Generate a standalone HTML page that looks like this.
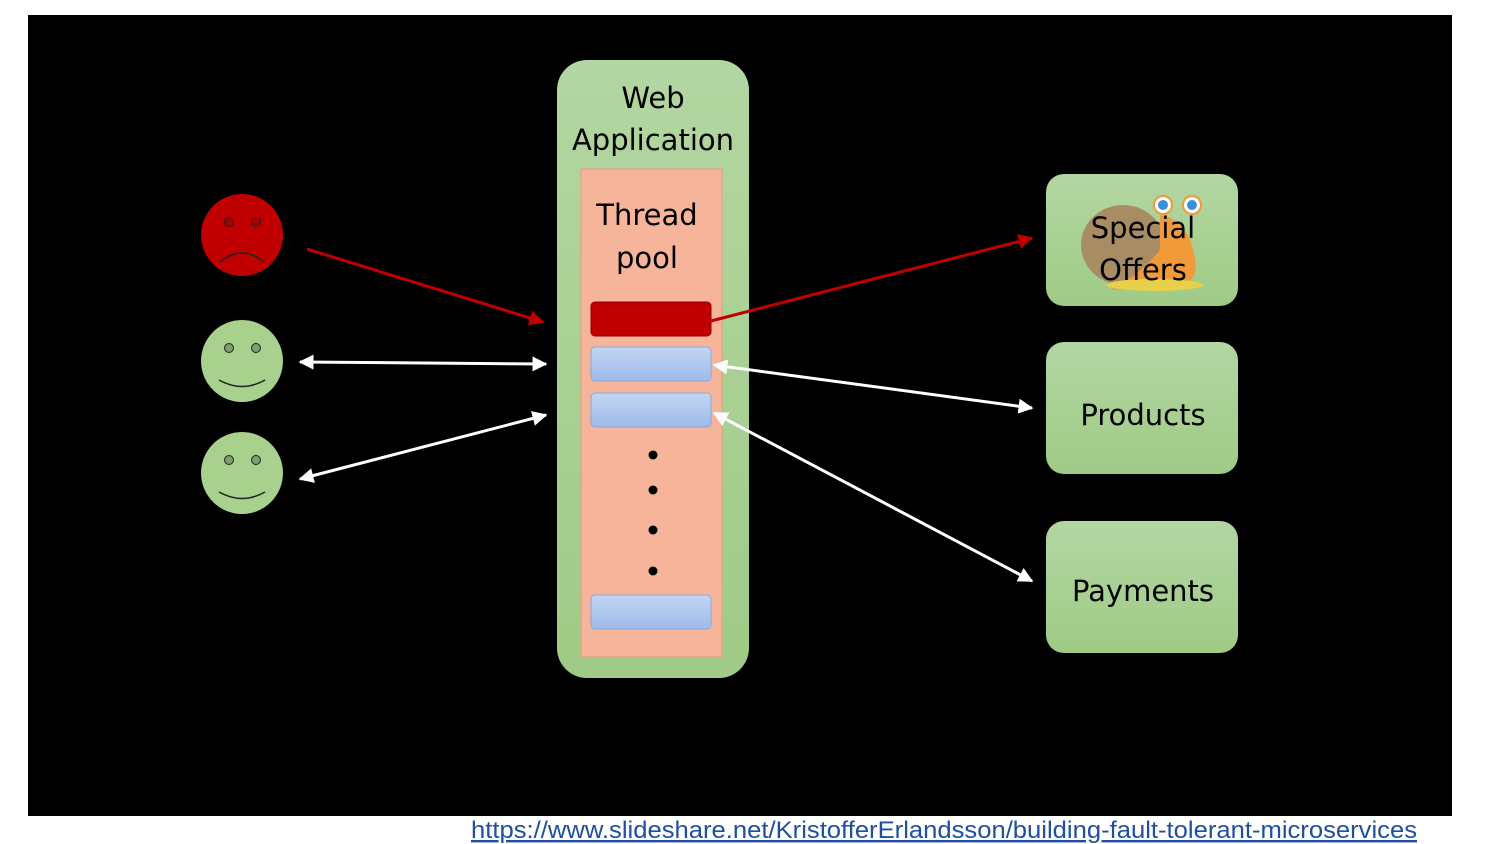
<!DOCTYPE html>
<html><head><meta charset="utf-8"><style>
html,body{margin:0;padding:0;background:#fff;width:1500px;height:844px;overflow:hidden}
svg{display:block}
text{font-family:"DejaVu Sans","Liberation Sans",sans-serif}
</style></head><body>
<svg width="1500" height="844" viewBox="0 0 1500 844">
<defs>
<linearGradient id="g" x1="0" y1="0" x2="0" y2="1"><stop offset="0" stop-color="#b3d6a2"/><stop offset="1" stop-color="#9fcb86"/></linearGradient>
<linearGradient id="b" x1="0" y1="0" x2="0" y2="1"><stop offset="0" stop-color="#c3d6f2"/><stop offset="1" stop-color="#9dbbe8"/></linearGradient>
<marker id="aw" viewBox="0 0 10 10" refX="9" refY="5" markerWidth="5" markerHeight="5" orient="auto-start-reverse"><path d="M0,0L10,5L0,10z" fill="#fff"/></marker>
<marker id="ar" viewBox="0 0 10 10" refX="9" refY="5" markerWidth="5" markerHeight="5" orient="auto"><path d="M0,0L10,5L0,10z" fill="#c00000"/></marker>
</defs>
<rect x="28" y="15" width="1424" height="801" fill="#000"/>
<rect x="557" y="60" width="192" height="618" rx="30" fill="url(#g)"/>
<text x="653" y="108" font-size="29" text-anchor="middle">Web</text>
<text x="653" y="150" font-size="29" text-anchor="middle">Application</text>
<rect x="581" y="169" width="141" height="488" fill="#f6b49a" stroke="#e89c80"/>
<text x="647" y="225" font-size="29" text-anchor="middle">Thread</text>
<text x="647" y="268" font-size="29" text-anchor="middle">pool</text>
<rect x="591" y="302" width="120" height="34" rx="4" fill="#c00000" stroke="#900"/>
<rect x="591" y="347" width="120" height="34" rx="4" fill="url(#b)" stroke="#8aa8d8"/>
<rect x="591" y="393" width="120" height="34" rx="4" fill="url(#b)" stroke="#8aa8d8"/>
<rect x="591" y="595" width="120" height="34" rx="4" fill="url(#b)" stroke="#8aa8d8"/>
<circle cx="653" cy="455" r="4.5"/><circle cx="653" cy="490" r="4.5"/><circle cx="653" cy="530" r="4.5"/><circle cx="653" cy="571" r="4.5"/>
<circle cx="242" cy="235" r="41" fill="#c00000"/>
<circle cx="229" cy="222" r="4.5" fill="#a00" stroke="#222"/><circle cx="256" cy="222" r="4.5" fill="#a00" stroke="#222"/>
<path d="M220,262 Q242,244 264,262" fill="none" stroke="#222" stroke-width="1.5"/>
<g fill="#a8d18d"><circle cx="242" cy="361" r="41"/><circle cx="242" cy="473" r="41"/></g>
<g fill="#7f9f6f" stroke="#222"><circle cx="229" cy="348" r="4.5"/><circle cx="256" cy="348" r="4.5"/><circle cx="229" cy="460" r="4.5"/><circle cx="256" cy="460" r="4.5"/></g>
<path d="M219,380 Q242,393 265,380 M219,492 Q242,505 265,492" fill="none" stroke="#222" stroke-width="1.5"/>
<line x1="307" y1="249" x2="543" y2="322" stroke="#c00000" stroke-width="3" marker-end="url(#ar)"/>
<line x1="300" y1="362" x2="546" y2="364" stroke="#fff" stroke-width="3" marker-start="url(#aw)" marker-end="url(#aw)"/>
<line x1="300" y1="479" x2="546" y2="415" stroke="#fff" stroke-width="3" marker-start="url(#aw)" marker-end="url(#aw)"/>
<line x1="711" y1="321" x2="1032" y2="238" stroke="#c00000" stroke-width="3" marker-end="url(#ar)"/>
<line x1="714" y1="365" x2="1032" y2="408" stroke="#fff" stroke-width="3" marker-start="url(#aw)" marker-end="url(#aw)"/>
<line x1="714" y1="413" x2="1032" y2="581" stroke="#fff" stroke-width="3" marker-start="url(#aw)" marker-end="url(#aw)"/>
<rect x="1046" y="174" width="192" height="132" rx="18" fill="url(#g)"/>
<ellipse cx="1123" cy="245" rx="42" ry="40" fill="#a88c63"/>
<path d="M1160,215 Q1190,220 1195,260 Q1200,285 1170,288 L1110,290 Q1140,275 1160,250z" fill="#f09a3a"/>
<ellipse cx="1155" cy="285" rx="48" ry="6" fill="#e8d04a"/>
<circle cx="1163" cy="205" r="9" fill="#fff" stroke="#f09a3a" stroke-width="2"/><circle cx="1163" cy="205" r="5" fill="#3a8fd8"/>
<circle cx="1192" cy="205" r="9" fill="#fff" stroke="#f09a3a" stroke-width="2"/><circle cx="1192" cy="205" r="5" fill="#3a8fd8"/>
<text x="1143" y="238" font-size="29" text-anchor="middle">Special</text>
<text x="1143" y="280" font-size="29" text-anchor="middle">Offers</text>
<rect x="1046" y="342" width="192" height="132" rx="18" fill="url(#g)"/>
<text x="1143" y="425" font-size="29" text-anchor="middle">Products</text>
<rect x="1046" y="521" width="192" height="132" rx="18" fill="url(#g)"/>
<text x="1143" y="601" font-size="29" text-anchor="middle">Payments</text>
<text x="471" y="838" font-size="24" fill="#1f4fa0" text-decoration="underline" textLength="946" lengthAdjust="spacingAndGlyphs" style="font-family:'Liberation Sans',sans-serif">https://www.slideshare.net/KristofferErlandsson/building-fault-tolerant-microservices</text>
</svg>
</body></html>
